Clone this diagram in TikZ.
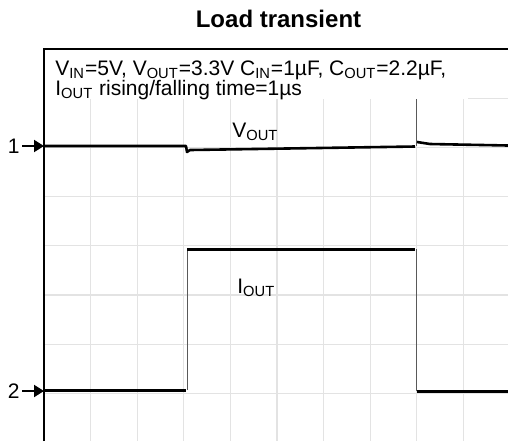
\documentclass[tikz,border=0pt]{standalone}
\usepackage{fontspec}
\setmainfont{Liberation Sans}
\usetikzlibrary{arrows.meta, positioning, calc}

\begin{document}
\begin{tikzpicture}[
    x=0.5pt, y=-0.5pt,
    every node/.style={font=\fontsize{10.5}{10}\selectfont, inner sep=0pt}, % 统一字体
    scopeframe/.style={black, line width=1pt}, % 示波器边框
    gridline/.style={gray!22, line width=0.6pt}, % 网格(浅灰)
    trace/.style={black, line width=1.3pt, line join=round}, % 波形(粗线)
    stepedge/.style={black!65, line width=0.5pt}, % 跳变沿(细线)
    marker/.style={-{Triangle[length=5pt, width=6pt]}, line width=1pt} % 通道标记箭头
]
    \useasboundingbox (0,0) rectangle (508,441);
    \clip (0,0) rectangle (508,441);

    % 1. 标题
    \node[font=\bfseries\fontsize{12}{12}\selectfont, anchor=base] (title) at (278.5,27) {Load transient};

    % 2. 网格(竖线间隔46.6,横线间隔49.2)
    \foreach \i in {1,...,10} {
        \draw[gridline] ({44+46.6*\i}, 50) -- ({44+46.6*\i}, 441);
    }
    \foreach \j in {1,...,8} {
        \draw[gridline] (45, {49+49.2*\j}) -- (508, {49+49.2*\j});
    }

    % 3. V_OUT波形(通道1)
    \draw[trace] (44,146) -- (186,146) -- (187,152) -- (190,150) -- (415,146.5);
    \draw[stepedge] (416,146) -- (416,99);
    \draw[trace] (417,142) -- (430,144) -- (508,145.5);
    \node (vout) [anchor=base west] at (232,137) {V\textsubscript{OUT}};

    % 4. I_OUT波形(通道2)
    \draw[trace, line width=1.5pt] (44,390) -- (186,390);
    \draw[stepedge] (187,390) -- (187,249);
    \draw[trace, line width=1.5pt] (187,249) -- (415,249);
    \draw[stepedge] (416,249) -- (416,391);
    \draw[trace, line width=1.5pt] (417,391) -- (508,391);
    \node (iout) [anchor=base west] at (237,293) {I\textsubscript{OUT}};

    % 5. 条件说明(白底)
    \fill[white] (45,50) rectangle (468,99);
    \node (info) [anchor=base west, align=left] at (55,95)
        {V\textsubscript{IN}=5V, V\textsubscript{OUT}=3.3V C\textsubscript{IN}=1µF, C\textsubscript{OUT}=2.2µF,\\
         I\textsubscript{OUT} rising/falling time=1µs};

    % 6. 边框
    \draw[scopeframe] (44,441) -- (44,49) -- (508,49);

    % 7. 通道标记
    \coordinate (ch1) at (44,146);
    \coordinate (ch2) at (44,391);
    \node (one) [anchor=east] at (20,146) {1};
    \node (two) [anchor=east] at (20,391) {2};
    \draw[marker] ($(one.east)+(2,0)$) -- (ch1);
    \draw[marker] ($(two.east)+(2,0)$) -- (ch2);

\end{tikzpicture}
\end{document}
